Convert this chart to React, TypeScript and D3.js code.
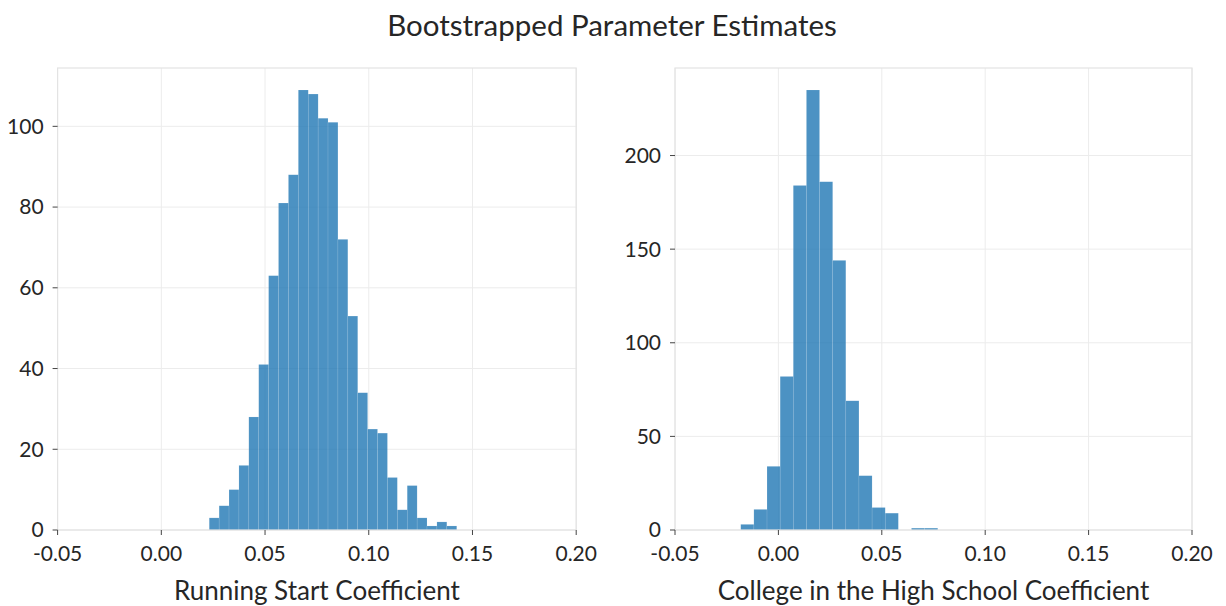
import React, { useEffect } from 'react';
import * as d3 from 'd3';

// Chart texts
const title = 'Bootstrapped Parameter Estimates';
const leftLabel = 'Running Start Coefficient';
const rightLabel = 'College in the High School Coefficient';
const xTicks = [-0.05, 0, 0.05, 0.1, 0.15, 0.2];
const leftYTicks = [0, 20, 40, 60, 80, 100];
const rightYTicks = [0, 50, 100, 150, 200];

// Running Start histogram (bin edges + counts)
const rsEdges = [
  0.0231, 0.02787, 0.03264, 0.03742, 0.04219, 0.04696, 0.05173, 0.0565, 0.06128,
  0.06605, 0.07082, 0.07559, 0.08036, 0.08514, 0.08991, 0.09468, 0.09945, 0.10422,
  0.109, 0.11377, 0.11854, 0.12331, 0.12808, 0.13286, 0.13763, 0.1424,
];
const rsCounts = [
  3, 6, 10, 16, 28, 41, 63, 81, 88, 109, 108, 102, 101, 72, 53, 34, 25, 24, 13, 5, 11,
  3, 1, 2, 1,
];

// College in the High School histogram
const chsEdges = [
  -0.0182, -0.01185, -0.0055, 0.00085, 0.0072, 0.01355, 0.0199, 0.02625, 0.0326,
  0.03895, 0.0453, 0.05165, 0.058, 0.06435, 0.0707, 0.07705,
];
const chsCounts = [3, 11, 34, 82, 184, 235, 186, 144, 69, 29, 12, 9, 0, 1, 1];

const W = 1226;
const H = 606;
const FONT = 'Lato, "Open Sans", sans-serif';
const TEXT = '#262626';

type PanelProps = {
  x0: number;
  x1: number;
  edges: number[];
  counts: number[];
  yTicks: number[];
  label: string;
};

const top = 68;
const bottom = 530;

// matplotlib-style label, plain hyphen for negatives
const fmt = (t: number) => d3.format('.2f')(t).replace('\u2212', '-');

function Panel({ x0, x1, edges, counts, yTicks, label }: PanelProps) {
  const x = d3.scaleLinear().domain([-0.05, 0.2]).range([x0, x1]);
  const ymax = (d3.max(counts) as number) * 1.05;
  const y = d3.scaleLinear().domain([0, ymax]).range([bottom, top]);
  const bins = counts.map((c, i) => ({ a: edges[i], b: edges[i + 1], c }));

  return (
    <g>
      {/* grid */}
      {xTicks.map((t) => (
        <line key={'gx' + t} x1={x(t)} x2={x(t)} y1={top} y2={bottom} stroke="#ececec" strokeWidth={1} />
      ))}
      {yTicks.map((t) => (
        <line key={'gy' + t} x1={x0} x2={x1} y1={y(t)} y2={y(t)} stroke="#ececec" strokeWidth={1} />
      ))}
      {/* bars */}
      {bins.filter((d) => d.c > 0).map((d, i) => (
        <rect
          key={i}
          x={x(d.a)}
          y={y(d.c)}
          width={x(d.b) - x(d.a)}
          height={y(0) - y(d.c)}
          fill="#1f77b4"
          fillOpacity={0.8}
          stroke="#ffffff"
          strokeOpacity={0.2}
          strokeWidth={0.5}
        />
      ))}
      {/* frame */}
      <rect x={x0} y={top} width={x1 - x0} height={bottom - top} fill="none" stroke="#e3e3e3" strokeWidth={1.2} />
      {/* x ticks */}
      {xTicks.map((t) => (
        <g key={'tx' + t} transform={`translate(${x(t)},${bottom})`}>
          <line y1={0} y2={5} stroke="#444" strokeWidth={1} />
          <text y={31} textAnchor="middle" fontSize={21} fill={TEXT} fontFamily={FONT}>
            {fmt(t)}
          </text>
        </g>
      ))}
      {/* y ticks */}
      {yTicks.map((t) => (
        <g key={'ty' + t} transform={`translate(${x0},${y(t)})`}>
          <line x1={-5} x2={0} stroke="#444" strokeWidth={1} />
          <text x={-14} dy="0.35em" textAnchor="end" fontSize={21} fill={TEXT} fontFamily={FONT}>
            {t}
          </text>
        </g>
      ))}
      <text x={(x0 + x1) / 2} y={600} textAnchor="middle" fontSize={26} fill={TEXT} fontFamily={FONT}>
        {label}
      </text>
    </g>
  );
}

export default function App() {
  useEffect(() => {
    document.body.style.margin = '0';
  }, []);
  return (
    <svg width={W} height={H} style={{ display: 'block', background: '#fff' }}>
      <text x={612} y={36} textAnchor="middle" fontSize={29.5} fill={TEXT} fontFamily={FONT}>
        {title}
      </text>
      <Panel x0={57.6} x1={576.2} edges={rsEdges} counts={rsCounts} yTicks={leftYTicks} label={leftLabel} />
      <Panel x0={675} x1={1192} edges={chsEdges} counts={chsCounts} yTicks={rightYTicks} label={rightLabel} />
    </svg>
  );
}
